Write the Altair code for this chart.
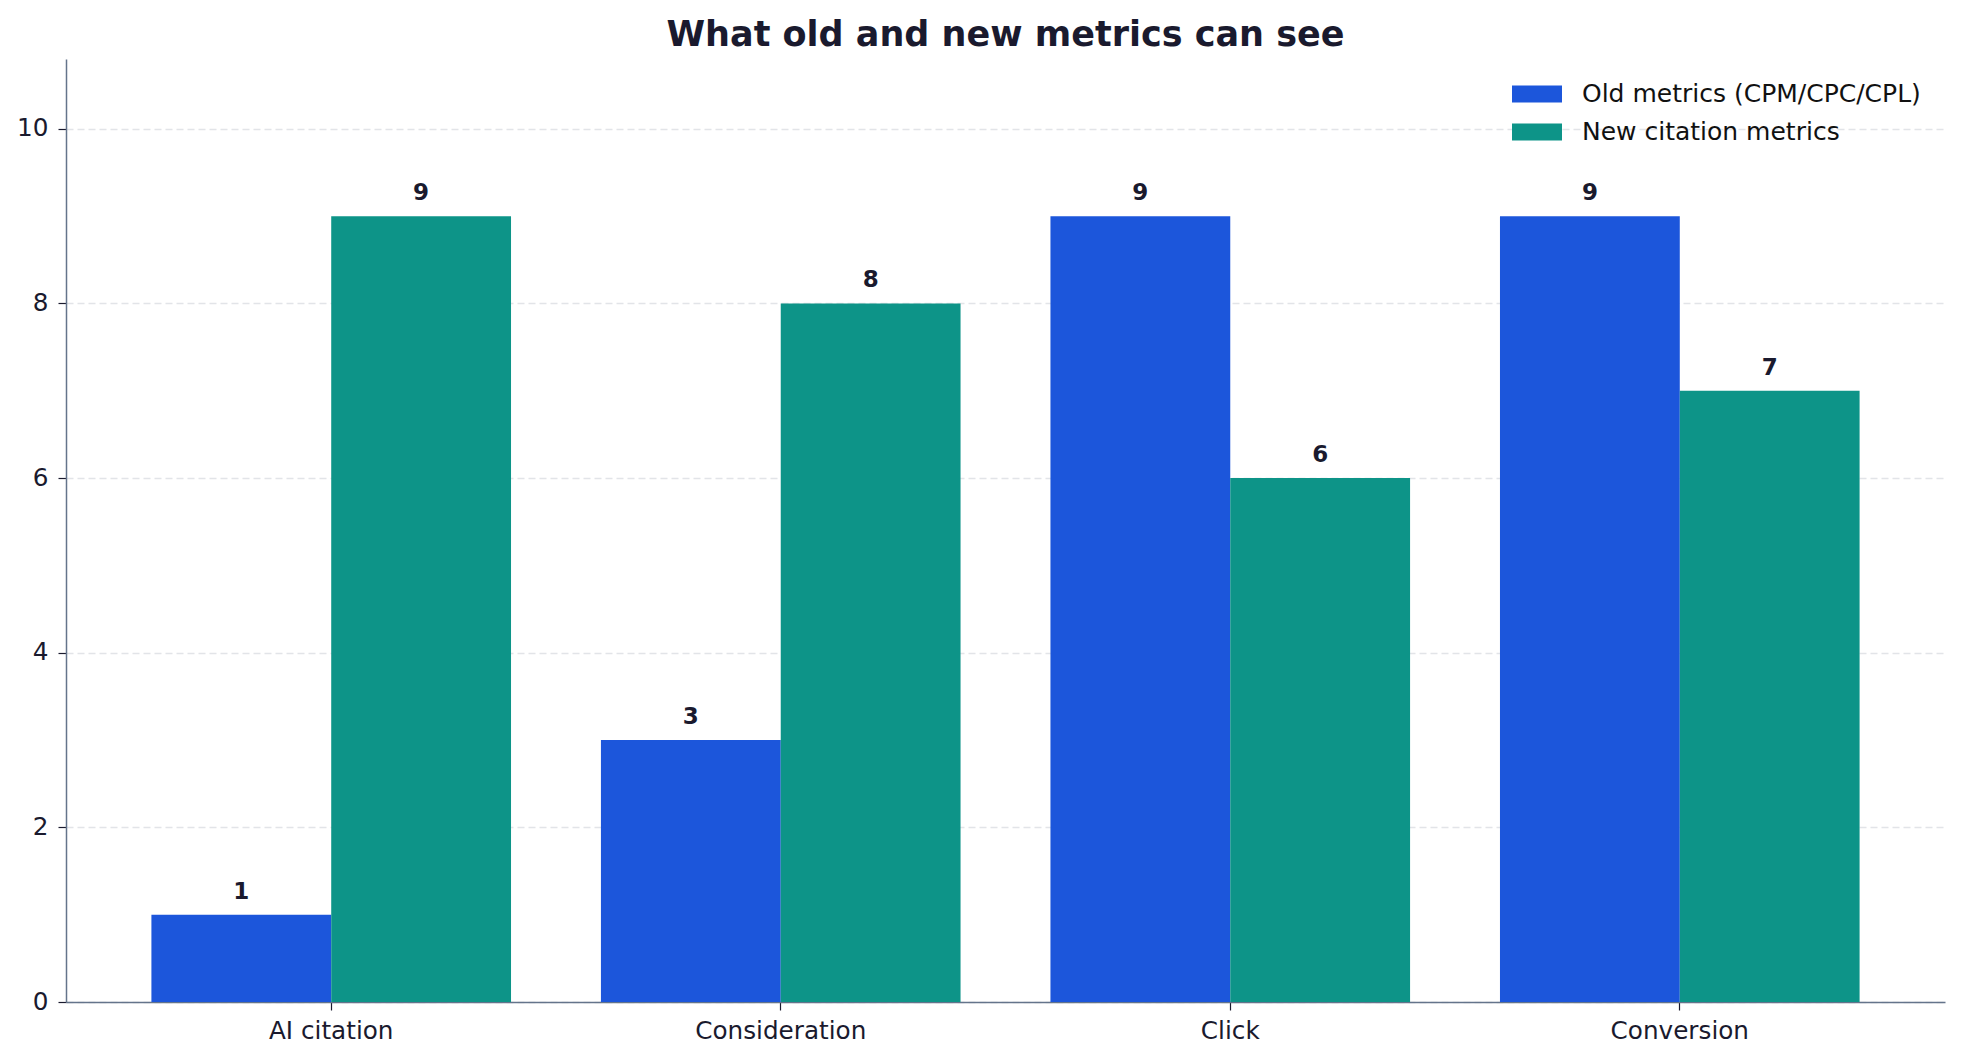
import altair as alt
import pandas as pd

# Funnel stages and how well each metric family can observe them
stages = ["AI citation", "Consideration", "Click", "Conversion"]
series_names = ["Old metrics (CPM/CPC/CPL)", "New citation metrics"]
old_scores = [1, 3, 9, 9]
new_scores = [9, 8, 6, 7]
series_colors = ["#1c56db", "#0d9488"]
y_ticks = [0, 2, 4, 6, 8, 10]

rows = []
for stage, o, n in zip(stages, old_scores, new_scores):
    rows.append({"stage": stage, "series": series_names[0], "score": o})
    rows.append({"stage": stage, "series": series_names[1], "score": n})
df = pd.DataFrame(rows)

FONT = "DejaVu Sans"
TEXT = "#1a1a2e"
AXIS = "#64748b"

x_enc = alt.X(
    "stage:N",
    sort=stages,
    scale=alt.Scale(paddingInner=0.2, paddingOuter=0.19),
    axis=alt.Axis(
        title=None,
        labelAngle=0,
        labelFontSize=24.7,
        labelFont=FONT,
        labelColor=TEXT,
        labelPadding=8,
        tickSize=8,
        tickColor=TEXT,
        tickWidth=1.2,
        domainColor=AXIS,
        domainWidth=1.5,
        grid=False,
    ),
)
xo_enc = alt.XOffset(
    "series:N",
    sort=series_names,
    scale=alt.Scale(paddingInner=0, paddingOuter=0),
)
y_enc = alt.Y(
    "score:Q",
    scale=alt.Scale(domain=[0, 10.8], nice=False),
    axis=alt.Axis(
        title=None,
        values=y_ticks,
        format="d",
        labelFontSize=24.7,
        labelFont=FONT,
        labelColor=TEXT,
        labelPadding=10,
        tickSize=8,
        tickColor=TEXT,
        tickWidth=1.2,
        domainColor=AXIS,
        domainWidth=1.5,
        grid=True,
        gridColor="#e2e4e8",
        gridDash=[7, 4],
        gridWidth=1.3,
    ),
)

bars = alt.Chart(df).mark_bar().encode(
    x=x_enc,
    xOffset=xo_enc,
    y=y_enc,
    color=alt.Color(
        "series:N",
        sort=series_names,
        scale=alt.Scale(domain=series_names, range=series_colors),
        legend=alt.Legend(
            title=None,
            orient="none",
            legendX=1446,
            legendY=10,
            padding=0,
            labelFontSize=25,
            labelFont=FONT,
            labelColor="#111111",
            labelOffset=20,
            labelLimit=0,
            rowPadding=-12.5,
            symbolType="M-1,-0.34H1V0.34H-1Z",
            symbolSize=2500,
            symbolStrokeWidth=0,
            symbolOpacity=1,
        ),
    ),
)

labels = alt.Chart(df).mark_text(
    baseline="bottom",
    dy=-11,
    font=FONT,
    fontSize=23,
    fontWeight="bold",
    color=TEXT,
).encode(
    x=alt.X("stage:N", sort=stages),
    xOffset=alt.XOffset("series:N", sort=series_names),
    y=alt.Y("score:Q"),
    text=alt.Text("score:Q"),
)

chart = (
    alt.layer(bars, labels)
    .properties(
        width=1879,
        height=943,
        view=alt.ViewBackground(strokeWidth=0, strokeOpacity=0),
        title=alt.TitleParams(
            "What old and new metrics can see",
            font=FONT,
            fontSize=35,
            fontWeight="bold",
            color=TEXT,
            anchor="middle",
            offset=6,
        ),
        autosize=alt.AutoSizeParams(type="none"),
        padding={"left": 66, "top": 59, "right": 16, "bottom": 60},
    )
    .configure_view(strokeWidth=0, strokeOpacity=0)
    .configure(background="white")
)

chart.save("out.html", embed_options={"renderer": "svg", "actions": False})
